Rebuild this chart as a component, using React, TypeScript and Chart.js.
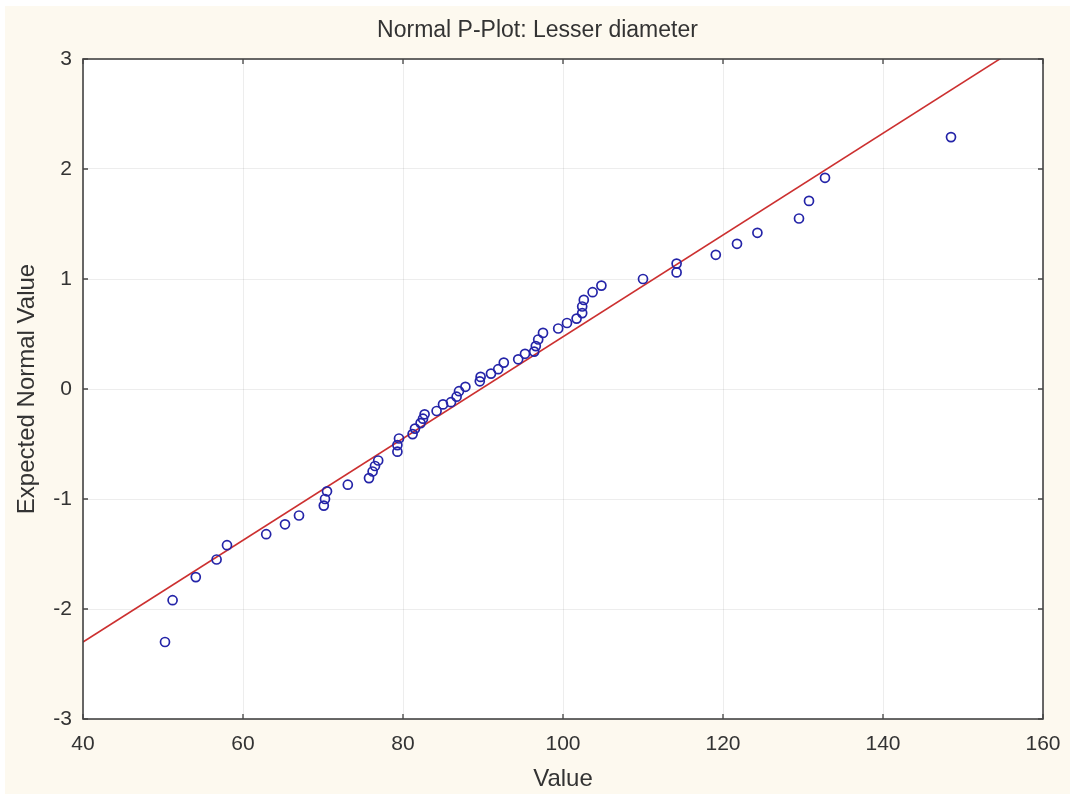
import React, { useEffect, useRef } from "react";
import { Chart, registerables } from "chart.js";

Chart.register(...registerables);

const values = [
  50.25, 51.2, 54.1, 56.7, 58.0, 62.9, 65.25, 67.0, 70.1, 70.25, 70.5, 73.1,
  75.75, 76.2, 76.5, 76.9, 79.3, 79.3, 79.5, 81.2, 81.5, 82.2, 82.5, 82.7,
  84.2, 85.0, 86.0, 86.7, 87.0, 87.8, 89.6, 89.7, 91.0, 91.9, 92.6, 94.4,
  95.25, 96.4, 96.6, 96.9, 97.5, 99.4, 100.5, 101.7, 102.4, 102.4, 102.6,
  103.7, 104.8, 110.0, 114.2, 114.2, 119.1, 121.75, 124.3, 129.5, 130.75,
  132.75, 148.5,
];
const expected = [
  -2.3, -1.92, -1.71, -1.55, -1.42, -1.32, -1.23, -1.15, -1.06, -1.0, -0.93,
  -0.87, -0.81, -0.75, -0.7, -0.65, -0.57, -0.51, -0.45, -0.41, -0.36, -0.31,
  -0.27, -0.23, -0.2, -0.14, -0.12, -0.07, -0.02, 0.02, 0.07, 0.11, 0.14,
  0.18, 0.24, 0.27, 0.32, 0.34, 0.39, 0.45, 0.51, 0.55, 0.6, 0.64, 0.69,
  0.75, 0.81, 0.88, 0.94, 1.0, 1.06, 1.14, 1.22, 1.32, 1.42, 1.55, 1.71,
  1.92, 2.29,
];
const lineX = [40, 160];
const lineY = [-2.3, 3.25];

const xTicks = [40, 60, 80, 100, 120, 140, 160];
const yTicks = [-3, -2, -1, 0, 1, 2, 3];

const FONT = "'Liberation Sans', Arial, sans-serif";
const TEXT = "#333333";

const framePlugin = {
  id: "frame",
  beforeDraw(chart: any) {
    const { ctx, chartArea: a, width, height } = chart;
    ctx.save();
    ctx.fillStyle = "#fdf9ef";
    ctx.fillRect(0, 0, width, height);
    ctx.fillStyle = "#ffffff";
    ctx.fillRect(a.left, a.top, a.right - a.left, a.bottom - a.top);
    ctx.restore();
  },
  afterDraw(chart: any) {
    const { ctx, chartArea: a, scales } = chart;
    ctx.save();
    ctx.strokeStyle = "#444444";
    ctx.lineWidth = 1.6;
    ctx.strokeRect(a.left, a.top, a.right - a.left, a.bottom - a.top);
    ctx.lineWidth = 1.3;
    const L = 5;
    ctx.beginPath();
    xTicks.forEach((v) => {
      const x = scales.x.getPixelForValue(v);
      ctx.moveTo(x, a.bottom);
      ctx.lineTo(x, a.bottom - L);
      ctx.moveTo(x, a.top);
      ctx.lineTo(x, a.top + L);
    });
    yTicks.forEach((v) => {
      const y = scales.y.getPixelForValue(v);
      ctx.moveTo(a.left, y);
      ctx.lineTo(a.left + L, y);
      ctx.moveTo(a.right, y);
      ctx.lineTo(a.right - L, y);
    });
    ctx.stroke();
    ctx.restore();
  },
};

export default function App() {
  const ref = useRef<HTMLCanvasElement>(null);
  useEffect(() => {
    if (!ref.current) return;
    const chart = new Chart(ref.current, {
      type: "scatter",
      data: {
        datasets: [
          {
            type: "line",
            data: lineX.map((x, i) => ({ x, y: lineY[i] })),
            borderColor: "#cc3030",
            borderWidth: 1.6,
            pointRadius: 0,
            fill: false,
            order: 2,
          },
          {
            data: values.map((x, i) => ({ x, y: expected[i] })),
            pointStyle: "circle",
            pointRadius: 4.5,
            borderWidth: 1.7,
            borderColor: "#2424a8",
            backgroundColor: "rgba(0,0,0,0)",
            order: 1,
          },
        ],
      },
      options: {
        animation: false,
        responsive: false,
        maintainAspectRatio: false,
        layout: { padding: 0 },
        plugins: {
          legend: { display: false },
          tooltip: { enabled: false },
          title: {
            display: true,
            text: "Normal P-Plot: Lesser diameter",
            color: TEXT,
            font: { family: FONT, size: 23, weight: "normal" },
            padding: { top: 11, bottom: 14.4 },
          },
        },
        scales: {
          x: {
            type: "linear",
            min: 40,
            max: 160,
            afterBuildTicks: (s: any) => {
              s.ticks = xTicks.map((v) => ({ value: v }));
            },
            afterFit: (s: any) => {
              s.height = 75;
              s.paddingLeft = 0;
              s.paddingRight = 0;
            },
            grid: { color: "rgba(0,0,0,0.07)", lineWidth: 1, drawTicks: false },
            border: { display: false },
            ticks: {
              color: TEXT,
              padding: 13,
              font: { family: FONT, size: 21 },
              maxRotation: 0,
            },
            title: {
              display: true,
              text: "Value",
              color: TEXT,
              font: { family: FONT, size: 24 },
              padding: { top: 0, bottom: 0 },
            },
          },
          y: {
            type: "linear",
            min: -3,
            max: 3,
            afterBuildTicks: (s: any) => {
              s.ticks = yTicks.map((v) => ({ value: v }));
            },
            afterFit: (s: any) => {
              s.width = 78;
              s.paddingTop = 0;
              s.paddingBottom = 0;
            },
            grid: { color: "rgba(0,0,0,0.07)", lineWidth: 1, drawTicks: false },
            border: { display: false },
            ticks: {
              color: TEXT,
              padding: 11,
              font: { family: FONT, size: 21 },
            },
            title: {
              display: true,
              text: "Expected Normal Value",
              color: TEXT,
              font: { family: FONT, size: 24 },
              padding: { top: 7.5, bottom: 0 },
            },
          },
          yRight: {
            type: "linear",
            position: "right",
            min: -3,
            max: 3,
            afterFit: (s: any) => {
              s.width = 27;
              s.paddingTop = 0;
              s.paddingBottom = 0;
            },
            grid: { display: false, drawTicks: false },
            border: { display: false },
            ticks: { display: false },
          },
        },
      },
      plugins: [framePlugin],
    });
    return () => chart.destroy();
  }, []);
  return (
    <div style={{ position: "fixed", left: 5, top: 6, width: 1065, height: 788 }}>
      <canvas ref={ref} width={1065} height={788} style={{ display: "block" }} />
    </div>
  );
}
